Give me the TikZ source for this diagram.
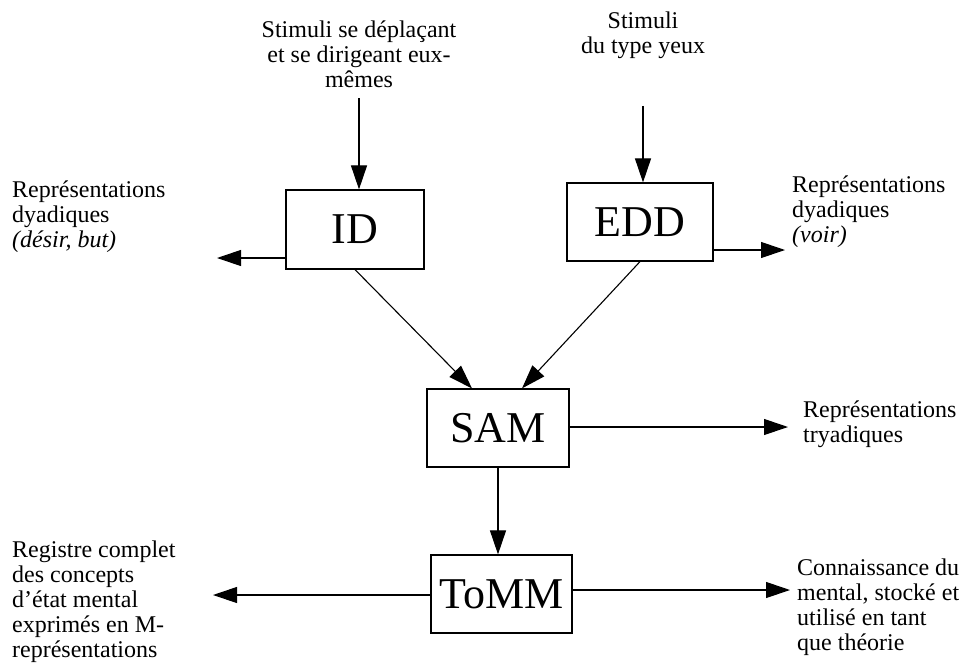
\documentclass[tikz,border=0pt]{standalone}
\usepackage{fontspec}
\setmainfont{Liberation Serif}
\usetikzlibrary{arrows.meta}
\newcommand{\LinesL}[1]{\begin{tabular}[t]{@{}l@{}}#1\end{tabular}}
\newcommand{\LinesC}[1]{\begin{tabular}[t]{@{}c@{}}#1\end{tabular}}
\begin{document}
\begin{tikzpicture}[x=1pt,y=-1pt,
  modbox/.style={draw, line width=1.2pt, inner sep=0pt, font=\fontsize{44}{44}\selectfont},
  lab/.style={inner sep=0pt, font=\fontsize{24}{25.2}\selectfont},
  arr/.style={line width=1.1pt, -{Triangle[length=24pt,width=16pt]}}]
\useasboundingbox (0,0) rectangle (975,670);
% boxes
\node[modbox, minimum width=138pt, minimum height=79pt] (id) at (355,229.5) {ID};
\node[modbox, minimum width=146pt, minimum height=78pt] (edd) at (640,222) {EDD};
\node[modbox, minimum width=142pt, minimum height=78pt] (sam) at (498,428) {SAM};
\node[modbox, minimum width=141pt, minimum height=78pt] (tomm) at (501.5,594) {ToMM};
% labels
\node[lab, anchor=base] (s1) at (359,37) {\LinesC{Stimuli se déplaçant\\ et se dirigeant eux-\\ mêmes}};
\node[lab, anchor=base] (s2) at (643,28) {\LinesC{Stimuli\\ du type yeux}};
\node[lab, anchor=base west] (l1) at (12,197) {\LinesL{Représentations\\ dyadiques\\ \textit{(désir, but)}}};
\node[lab, anchor=base west] (r1) at (792,192) {\LinesL{Représentations\\ dyadiques\\ \textit{(voir)}}};
\node[lab, anchor=base west] (r2) at (803,417) {\LinesL{Représentations\\ tryadiques}};
\node[lab, anchor=base west] (l2) at (12,557) {\LinesL{Registre complet\\ des concepts\\ d’état mental\\ exprimés en M-\\ représentations}};
\node[lab, anchor=base west] (r3) at (797,575) {\LinesL{Connaissance du\\ mental, stocké et\\ utilisé en tant\\ que théorie}};
% free arrow ends
\coordinate (idL) at (217,258);
\coordinate (eddR) at (785,250);
\coordinate (samR) at (788,427);
\coordinate (tommL) at (213,595);
\coordinate (tommR) at (790,590);
% connectors
\draw[arr] ([yshift=-3pt]s1.south) -- (s1.south |- id.north);
\draw[arr] ([yshift=-45pt]s2.south) -- (s2.south |- edd.north);
\draw[arr] (id.west |- idL) -- (idL);
\draw[arr] (edd.east |- eddR) -- (eddR);
\draw[arr] (id.south) -- ([xshift=-26pt]sam.north);
\draw[arr] (edd.south) -- ([xshift=24pt]sam.north);
\draw[arr] (sam.east |- samR) -- (samR);
\draw[arr] (sam.south) -- (sam.south |- tomm.north);
\draw[arr] (tomm.west |- tommL) -- (tommL);
\draw[arr] (tomm.east |- tommR) -- (tommR);
\end{tikzpicture}
\end{document}
